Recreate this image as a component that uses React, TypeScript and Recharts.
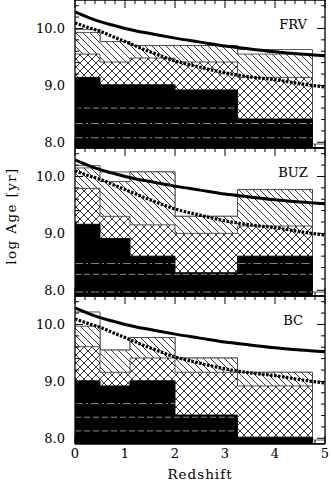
import React from "react";
import { ComposedChart, Area, Line, XAxis, YAxis } from "recharts";

// bin edges in redshift (last tiny bin 4.75-5)
const binEdges = [0, 0.5, 1.1, 2.0, 3.25, 4.75, 5];

// FRV
const frvBlack = [9.14, 9.01, 9.01, 8.92, 8.41, 7.9];
const frvCross = [9.55, 9.41, 9.48, 9.41, 9.14, 7.9];
const frvDiag = [9.93, 9.77, 9.7, 9.7, 9.55, 7.9];
const frvBox = [9.98, 9.77, 9.7, 9.7, 9.63, 7.97];

// BUZ
const buzBlack = [9.16, 8.91, 8.6, 8.31, 8.6, 7.9];
const buzCross = [9.79, 9.3, 9.15, 9.0, 9.13, 7.9];
const buzDiag = [10.15, 9.91, 10.08, 9.3, 9.77, 7.9];
const buzBox = [10.19, 10.08, 10.08, 9.3, 9.77, 7.97];

// BC
const bcBlack = [9.01, 8.92, 9.01, 8.41, 8.02, 7.9];
const bcCross = [9.61, 9.16, 9.41, 9.16, 8.92, 7.9];
const bcDiag = [9.97, 9.55, 9.77, 9.41, 9.16, 7.9];
const bcBox = [10.22, 9.55, 9.77, 9.41, 9.16, 7.97];

// grey level lines inside the black bars: [level, from z, to z, dashed?]
const frvLevels: [number, number, number, boolean][] = [
  [8.6, 0, 3.25, true],
  [8.33, 0, 4.75, false],
  [8.08, 0, 4.75, false],
];
const buzLevels: [number, number, number, boolean][] = [
  [8.47, 0, 2.0, false],
  [8.47, 3.25, 4.75, false],
  [8.28, 0, 4.75, true],
  [7.97, 0, 4.75, false],
];
const bcLevels: [number, number, number, boolean][] = [
  [8.61, 0, 2.0, false],
  [8.37, 0, 3.25, true],
  [8.13, 0, 3.25, true],
];

// age curves
const curveZ = [0, 0.25, 0.5, 0.75, 1, 1.5, 2, 2.5, 3, 3.5, 4, 4.5, 5];
const ageUniverse = [10.29, 10.2, 10.12, 10.06, 10.0, 9.91, 9.83, 9.76, 9.69, 9.64, 9.59, 9.55, 9.52];
const ageFormation = [10.1, 10.02, 9.95, 9.86, 9.77, 9.59, 9.43, 9.32, 9.22, 9.15, 9.1, 9.03, 8.97];

const xLabels = [0, 1, 2, 3, 4, 5];
const yLabels = [8, 9, 10];
const xTicks = Array.from({ length: 26 }, (_, i) => (i * 2) / 10);
const yTicks = Array.from({ length: 13 }, (_, i) => (80 + i * 2) / 10);

const FONT = "'DejaVu Serif', serif";

const panels = [
  { name: "FRV", black: frvBlack, cross: frvCross, diag: frvDiag, box: frvBox, levels: frvLevels },
  { name: "BUZ", black: buzBlack, cross: buzCross, diag: buzDiag, box: buzBox, levels: buzLevels },
  { name: "BC", black: bcBlack, cross: bcCross, diag: bcDiag, box: bcBox, levels: bcLevels },
];

const isLabel = (v: number, list: number[]) => list.some((l) => Math.abs(l - v) < 1e-6);

const LeftTick = (props: any) => {
  const { x, y, payload } = props;
  const major = isLabel(payload.value, yLabels);
  return (
    <g>
      <line x1={x} y1={y} x2={x + (major ? 8 : 4)} y2={y} stroke="#000" />
      {major && (
        <text x={x - 10} y={y} dy={4.5} textAnchor="end" fontFamily={FONT} fontSize={13} fill="#000">
          {payload.value.toFixed(1)}
        </text>
      )}
    </g>
  );
};

const RightTick = (props: any) => {
  const { x, y, payload } = props;
  const major = isLabel(payload.value, yLabels);
  return <line x1={x} y1={y} x2={x - (major ? 8 : 4)} y2={y} stroke="#000" />;
};

const TopTick = (props: any) => {
  const { x, y, payload } = props;
  const major = isLabel(payload.value, xLabels);
  return <line x1={x} y1={y} x2={x} y2={y + (major ? 8 : 4)} stroke="#000" />;
};

const makeBottomTick = (showLabels: boolean) => (props: any) => {
  const { x, y, payload } = props;
  const major = isLabel(payload.value, xLabels);
  return (
    <g>
      <line x1={x} y1={y} x2={x} y2={y - (major ? 8 : 4)} stroke="#000" />
      {showLabels && major && (
        <text x={x} y={y + 13.5} textAnchor="middle" fontFamily={FONT} fontSize={13} fill="#000">
          {payload.value}
        </text>
      )}
    </g>
  );
};

function Panel({ p, idx, last }: { p: (typeof panels)[number]; idx: number; last: boolean }) {
  const rows = binEdges.map((x, i) => {
    const k = Math.min(i, p.black.length - 1);
    return { x, black: p.black[k], cross: p.cross[k], diag: p.diag[k], box: p.box[k] };
  });
  const universe = curveZ.map((z, i) => ({ x: z, y: ageUniverse[i] }));
  const formation = curveZ.map((z, i) => ({ x: z, y: ageFormation[i] }));
  const extra = last ? 37 : 0;
  const diagId = `diag-${p.name}`;
  const crossId = `cross-${p.name}`;

  return (
    <div style={{ position: "absolute", left: 0, top: idx * 148 - 1 }}>
      <ComposedChart
        width={333}
        height={150 + extra}
        data={rows}
        margin={{ top: 0, right: 7, bottom: extra, left: 0 }}
        style={{ overflow: "visible" }}
      >
        <defs>
          <pattern id={diagId} patternUnits="userSpaceOnUse" width={7} height={7}>
            <rect width={7} height={7} fill="#fff" />
            <path d="M-1,-1 L8,8 M-1,6 L1,8 M6,-1 L8,1" stroke="#222" strokeWidth={0.9} />
          </pattern>
          <pattern id={crossId} patternUnits="userSpaceOnUse" width={8} height={8}>
            <rect width={8} height={8} fill="#fff" />
            <path d="M0,0 L8,8 M8,0 L0,8" stroke="#222" strokeWidth={0.9} />
          </pattern>
        </defs>
        <Area type="stepAfter" dataKey="box" baseValue={7.9} fill="#fff" fillOpacity={1} stroke="#444" strokeWidth={0.9} dot={false} activeDot={false} isAnimationActive={false} />
        <Area type="stepAfter" dataKey="diag" baseValue={7.9} fill={`url(#${diagId})`} fillOpacity={1} stroke="#444" strokeWidth={0.9} dot={false} activeDot={false} isAnimationActive={false} />
        <Area type="stepAfter" dataKey="cross" baseValue={7.9} fill={`url(#${crossId})`} fillOpacity={1} stroke="#444" strokeWidth={0.9} dot={false} activeDot={false} isAnimationActive={false} />
        <Area type="stepAfter" dataKey="black" baseValue={7.9} fill="#000" fillOpacity={1} stroke="#000" strokeWidth={0.9} dot={false} activeDot={false} isAnimationActive={false} />
        {p.levels.map(([lv, from, to, dashed], i) => (
          <Line
            key={i}
            data={[{ x: from, y: lv }, { x: to, y: lv }]}
            dataKey="y"
            type="linear"
            stroke="#8a8a8a"
            strokeWidth={1}
            strokeDasharray={dashed ? "6 3" : "8 3 2 3"}
            dot={false}
            activeDot={false}
            isAnimationActive={false}
          />
        ))}
        <Line data={universe} dataKey="y" type="monotone" stroke="#000" strokeWidth={3} dot={false} activeDot={false} isAnimationActive={false} />
        <Line data={formation} dataKey="y" type="monotone" stroke="#000" strokeWidth={3.2} strokeDasharray="2.5 1.5" dot={false} activeDot={false} isAnimationActive={false} />
        <XAxis
          dataKey="x"
          type="number"
          domain={[0, 5]}
          ticks={xTicks}
          interval={0}
          height={1}
          tickSize={0}
          tickMargin={0}
          tick={makeBottomTick(last)}
          axisLine={{ stroke: "#000", strokeWidth: 1.3 }}
          allowDataOverflow
        />
        <XAxis
          xAxisId="t"
          orientation="top"
          dataKey="x"
          type="number"
          domain={[0, 5]}
          ticks={xTicks}
          interval={0}
          height={1}
          tickSize={0}
          tickMargin={0}
          tick={TopTick}
          axisLine={{ stroke: "#000", strokeWidth: 1.3 }}
          allowDataOverflow
        />
        <YAxis
          type="number"
          domain={[7.9, 10.5]}
          ticks={yTicks}
          interval={0}
          width={75}
          tickSize={0}
          tickMargin={0}
          tick={LeftTick}
          axisLine={{ stroke: "#000", strokeWidth: 1.3 }}
          allowDataOverflow
        />
        <YAxis
          yAxisId="r"
          orientation="right"
          type="number"
          domain={[7.9, 10.5]}
          ticks={yTicks}
          interval={0}
          width={1}
          tickSize={0}
          tickMargin={0}
          tick={RightTick}
          axisLine={{ stroke: "#000", strokeWidth: 1.3 }}
          allowDataOverflow
        />
      </ComposedChart>
      <div
        style={{
          position: "absolute",
          left: 293,
          top: 25,
          transform: "translate(-50%, -50%)",
          fontFamily: FONT,
          fontSize: 13,
          whiteSpace: "nowrap",
        }}
      >
        {p.name}
      </div>
    </div>
  );
}

export default function App() {
  return (
    <div style={{ position: "absolute", left: 0, top: 0, width: 333, height: 481, background: "#fff", fontFamily: FONT, color: "#000" }}>
      {panels.map((p, i) => (
        <Panel key={p.name} p={p} idx={i} last={i === panels.length - 1} />
      ))}
      <div
        style={{
          position: "absolute",
          left: 11,
          top: 216,
          transform: "translate(-50%, -50%) rotate(-90deg)",
          whiteSpace: "nowrap",
          fontSize: 13.5,
          letterSpacing: 1.4,
        }}
      >
        log Age [yr]
      </div>
      <div
        style={{
          position: "absolute",
          left: 200,
          top: 473.5,
          transform: "translate(-50%, -50%)",
          whiteSpace: "nowrap",
          fontSize: 13.5,
          letterSpacing: 1,
        }}
      >
        Redshift
      </div>
    </div>
  );
}
